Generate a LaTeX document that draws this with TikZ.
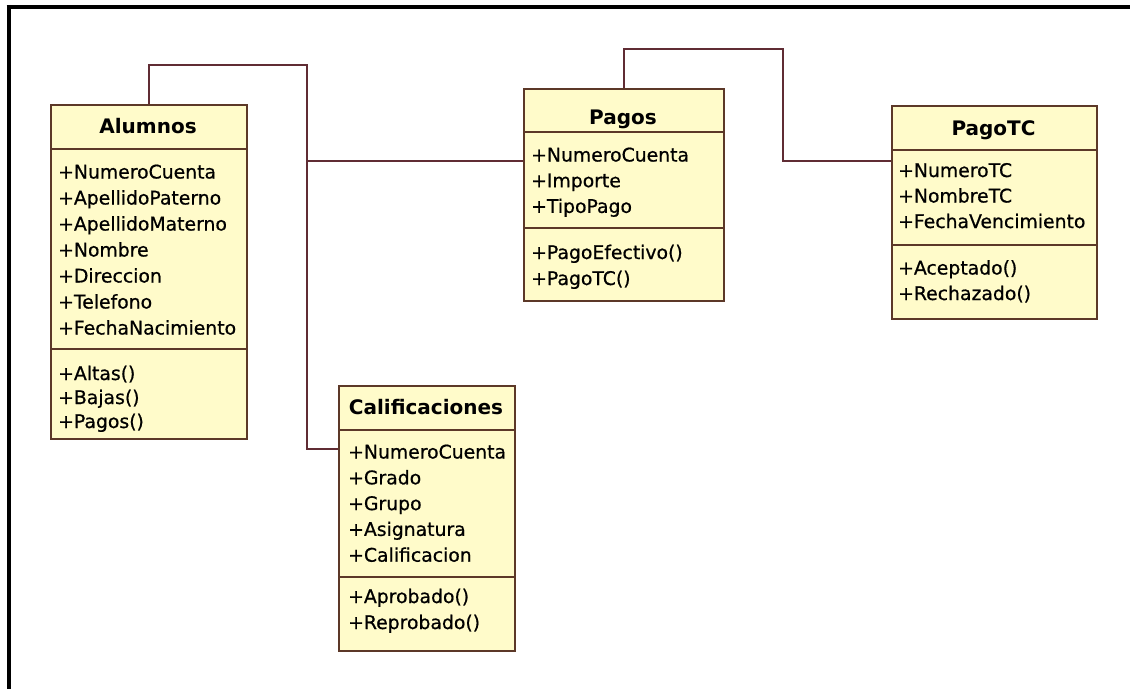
\documentclass[tikz,border=0pt]{standalone}
\usepackage{fontspec}
\setmainfont{DejaVu Sans}
\newfontfamily\memberfont{DejaVu Sans}[RawFeature={embolden=0.7}]
\definecolor{boxfill}{RGB}{255,251,202}
\definecolor{boxline}{RGB}{92,56,40}
\definecolor{connline}{RGB}{96,44,52}
\tikzset{
  classbox/.style={draw=boxline, fill=boxfill, line width=1.6pt, anchor=north west, inner sep=0pt},
  sepline/.style={draw=boxline, line width=1.6pt},
  classtitle/.style={anchor=base, inner sep=0pt, font=\fontsize{20}{22}\selectfont\bfseries},
  member/.style={anchor=base west, inner sep=0pt, font=\memberfont\fontsize{18.8}{22}\selectfont},
  conn/.style={draw=connline, line width=1.6pt},
  frameline/.style={draw=black, line width=4.3pt}
}
\begin{document}
\begin{tikzpicture}[x=1pt, y=-1pt]
\useasboundingbox (0,0) rectangle (1130,689);
\fill[white] (0,0) rectangle (1130,689);

% window frame (top and left edges)
\draw[frameline] (6.7,6.9) -- (1130,6.9);
\draw[frameline] (8.9,4.8) -- (8.9,689);

% ---- Alumnos ----
\node[classbox, minimum width=196, minimum height=334] (alumnos) at (50,104) {};
\draw[sepline] (50,149) -- (246,149);
\draw[sepline] (50,349) -- (246,349);
\node[classtitle] (alumnos-t) at (148,133.5) {Alumnos};
\foreach \t [count=\i] in {+NumeroCuenta,+ApellidoPaterno,+ApellidoMaterno,+Nombre,+Direccion,+Telefono,+FechaNacimiento}
  \node[member] (alumnos-a\i) at (58,{178.5+(\i-1)*26}) {\t};
\foreach \t [count=\i] in {+Altas(),+Bajas(),+Pagos()}
  \node[member] (alumnos-m\i) at (58,{380+(\i-1)*24}) {\t};

% ---- Calificaciones ----
\node[classbox, minimum width=176, minimum height=265] (calif) at (338,385) {};
\draw[sepline] (338,430) -- (514,430);
\draw[sepline] (338,577) -- (514,577);
\node[classtitle] (calif-t) at (426,414) {Calificaciones};
\foreach \t [count=\i] in {+NumeroCuenta,+Grado,+Grupo,+Asignatura,+Calificacion}
  \node[member] (calif-a\i) at (348,{458.5+(\i-1)*25.8}) {\t};
\foreach \t [count=\i] in {+Aprobado(),+Reprobado()}
  \node[member] (calif-m\i) at (348,{603+(\i-1)*26}) {\t};

% ---- Pagos ----
\node[classbox, minimum width=200, minimum height=212] (pagos) at (523,88) {};
\draw[sepline] (523,132) -- (723,132);
\draw[sepline] (523,228) -- (723,228);
\node[classtitle] (pagos-t) at (623,124) {Pagos};
\foreach \t [count=\i] in {+NumeroCuenta,+Importe,+TipoPago}
  \node[member] (pagos-a\i) at (531,{161.5+(\i-1)*25.7}) {\t};
\foreach \t [count=\i] in {+PagoEfectivo(),+PagoTC()}
  \node[member] (pagos-m\i) at (531,{259+(\i-1)*26}) {\t};

% ---- PagoTC ----
\node[classbox, minimum width=205, minimum height=213] (pagotc) at (891,105) {};
\draw[sepline] (891,150) -- (1096,150);
\draw[sepline] (891,245) -- (1096,245);
\node[classtitle] (pagotc-t) at (993.5,135) {PagoTC};
\foreach \t [count=\i] in {+NumeroTC,+NombreTC,+FechaVencimiento}
  \node[member] (pagotc-a\i) at (898,{177+(\i-1)*25.5}) {\t};
\foreach \t [count=\i] in {+Aceptado(),+Rechazado()}
  \node[member] (pagotc-m\i) at (898,{274.5+(\i-1)*25.5}) {\t};

% ---- associations ----
\coordinate (bendA) at (307,65);
\coordinate (juncA) at (307,161);
\coordinate (joinC) at (307,449);
\coordinate (bendB) at (783,49);
\coordinate (juncB) at (783,161);

\draw[conn] (alumnos.north) |- (bendA) -- (joinC) -- (joinC -| calif.west);
\draw[conn] (juncA) -- (juncA -| pagos.west);
\draw[conn] (pagos.north) |- (bendB) -- (juncB) -- (juncB -| pagotc.west);
\end{tikzpicture}
\end{document}
